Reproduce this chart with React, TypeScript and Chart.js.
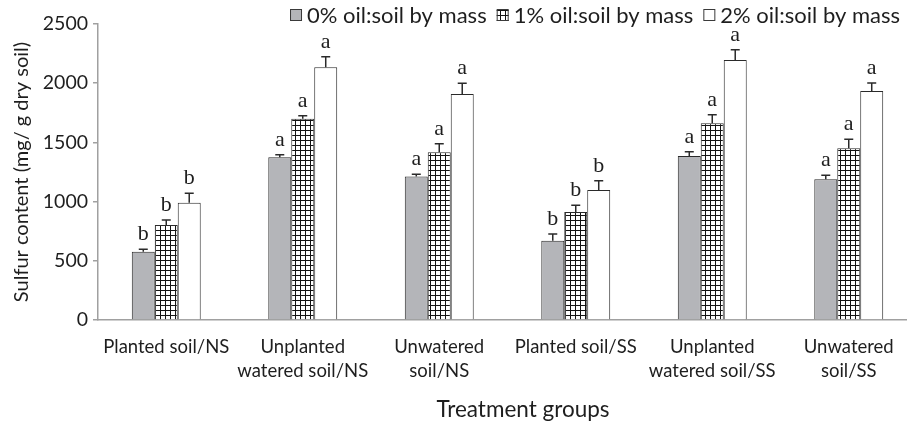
import React, { useEffect, useRef } from 'react';
import { Chart, registerables } from 'chart.js';

Chart.register(...registerables);

// ---- data ----
const categories: string[][] = [
  ['Planted soil/NS'],
  ['Unplanted', 'watered soil/NS'],
  ['Unwatered', 'soil/NS'],
  ['Planted soil/SS'],
  ['Unplanted', 'watered soil/SS'],
  ['Unwatered', 'soil/SS'],
];
const seriesNames = ['0% oil:soil by mass', '1% oil:soil by mass', '2% oil:soil by mass'];
const oil0 = [577, 1374, 1211, 670, 1385, 1188];
const oil1 = [802, 1700, 1416, 912, 1661, 1450];
const oil2 = [991, 2134, 1909, 1098, 2196, 1934];
const oil0Err = [20, 22, 19, 56, 37, 34];
const oil1Err = [43, 26, 73, 57, 73, 76];
const oil2Err = [79, 90, 90, 79, 87, 68];
const oil0Letters = ['b', 'a', 'a', 'b', 'a', 'a'];
const oil1Letters = ['b', 'a', 'a', 'b', 'a', 'a'];
const oil2Letters = ['b', 'a', 'a', 'b', 'a', 'a'];
const yMin = 0;
const yMax = 2500;
const yStep = 500;
const yTitle = 'Sulfur content (mg/ g dry soil)';
const xTitle = 'Treatment groups';

const TEXT = '#1e1e1e';
const AXIS = '#a0a0a0';
const EDGE = '#2a2a2a';
const SANS = 'Lato, "Liberation Sans", sans-serif';

function makeHatch(): CanvasPattern | string {
  const c = document.createElement('canvas');
  c.width = 5;
  c.height = 5;
  const g = c.getContext('2d');
  if (!g) return '#888';
  g.fillStyle = '#ffffff';
  g.fillRect(0, 0, 5, 5);
  g.fillStyle = '#141414';
  g.fillRect(0, 0, 5, 1);
  g.fillRect(0, 0, 1, 5);
  const p = g.createPattern(c, 'repeat');
  return p || '#888';
}

const annotPlugin = {
  id: 'annot',
  afterDatasetsDraw(chart: any) {
    const ctx = chart.ctx;
    const yScale = chart.scales.y;
    ctx.save();
    chart.data.datasets.forEach((ds: any, di: number) => {
      const meta = chart.getDatasetMeta(di);
      meta.data.forEach((bar: any, i: number) => {
        const v = ds.data[i];
        const e = ds.errors[i];
        const x = bar.x;
        const top = yScale.getPixelForValue(v);
        const ey = yScale.getPixelForValue(v + e);
        ctx.strokeStyle = EDGE;
        ctx.lineWidth = 1.5;
        ctx.beginPath();
        ctx.moveTo(x, top);
        ctx.lineTo(x, ey);
        ctx.moveTo(x - 4.5, ey);
        ctx.lineTo(x + 4.5, ey);
        ctx.stroke();
        ctx.fillStyle = TEXT;
        ctx.font = '22px "Liberation Serif", "DejaVu Serif", serif';
        ctx.textAlign = 'center';
        ctx.textBaseline = 'alphabetic';
        ctx.fillText(ds.letters[i], x, ey - 9);
      });
    });
    ctx.restore();
  },
  afterDraw(chart: any) {
    const ctx = chart.ctx;
    ctx.save();
    // x-axis title
    ctx.fillStyle = TEXT;
    ctx.font = '22.5px ' + SANS;
    ctx.textAlign = 'center';
    ctx.textBaseline = 'middle';
    ctx.fillText(xTitle, 523, 410);
    // legend, right-aligned at the top
    ctx.font = '22px ' + SANS;
    ctx.textBaseline = 'middle';
    ctx.textAlign = 'left';
    const box = 12;
    const gapBoxText = 5;
    const gapItems = 10;
    const items = chart.data.datasets.map((ds: any) => ({
      label: ds.label,
      fill: ds.backgroundColor,
      w: ctx.measureText(ds.label).width,
    }));
    const total = items.reduce((s: number, it: any) => s + box + gapBoxText + it.w, 0) + gapItems * (items.length - 1);
    let x = 900 - total;
    const cy = 15;
    items.forEach((it: any) => {
      ctx.fillStyle = it.fill;
      ctx.fillRect(x, cy - box / 2, box, box);
      ctx.strokeStyle = '#3a3a3a';
      ctx.lineWidth = 1;
      ctx.strokeRect(x + 0.5, cy - box / 2 + 0.5, box - 1, box - 1);
      ctx.fillStyle = TEXT;
      ctx.fillText(it.label, x + box + gapBoxText, cy + 1);
      x += box + gapBoxText + it.w + gapItems;
    });
    ctx.restore();
  },
};

export default function App() {
  const ref = useRef<HTMLCanvasElement | null>(null);
  useEffect(() => {
    if (!ref.current) return;
    const hatch = makeHatch();
    const common = {
      borderColor: EDGE,
      borderWidth: 1,
      categoryPercentage: 0.505,
      barPercentage: 1,
    };
    const chart = new Chart(ref.current, {
      type: 'bar',
      data: {
        labels: categories,
        datasets: [
          { label: seriesNames[0], data: oil0, errors: oil0Err, letters: oil0Letters, backgroundColor: '#b4b5b9', ...common } as any,
          { label: seriesNames[1], data: oil1, errors: oil1Err, letters: oil1Letters, backgroundColor: hatch, ...common } as any,
          { label: seriesNames[2], data: oil2, errors: oil2Err, letters: oil2Letters, backgroundColor: '#ffffff', ...common } as any,
        ],
      },
      options: {
        animation: false,
        responsive: true,
        maintainAspectRatio: false,
        layout: { padding: { top: 24, right: 0, bottom: 0, left: 0 } },
        plugins: {
          legend: { display: false },
          tooltip: { enabled: false },
        },
        scales: {
          x: {
            grid: { display: false },
            border: { display: true, color: AXIS, width: 1.5 },
            ticks: {
              color: TEXT,
              font: { family: SANS, size: 18.5, lineHeight: 1.3 },
              padding: 7,
              maxRotation: 0,
              autoSkip: false,
            },
            title: { display: false, text: xTitle },
            afterFit: (s: any) => {
              s.height = 108;
            },
          },
          y: {
            min: yMin,
            max: yMax,
            grid: {
              display: true,
              drawOnChartArea: false,
              drawTicks: true,
              tickLength: 5,
              color: AXIS,
              lineWidth: 1.5,
            },
            border: { display: true, color: AXIS, width: 1.5 },
            ticks: {
              stepSize: yStep,
              color: TEXT,
              font: { family: SANS, size: 19.5 },
              padding: 5,
              callback: (v: any) => String(v),
            },
            title: {
              display: true,
              text: yTitle,
              color: TEXT,
              font: { family: SANS, size: 20 },
              padding: { top: 10, bottom: 0 },
            },
            afterFit: (s: any) => {
              s.width = 98;
            },
          },
        },
      },
      plugins: [annotPlugin],
    } as any);
    return () => chart.destroy();
  }, []);
  return (
    <div style={{ position: 'fixed', left: 0, top: 0, width: 907, height: 428, overflow: 'hidden', background: '#fff' }}>
      <div style={{ position: 'relative', width: 917, height: 428 }}>
        <canvas ref={ref} />
      </div>
    </div>
  );
}
